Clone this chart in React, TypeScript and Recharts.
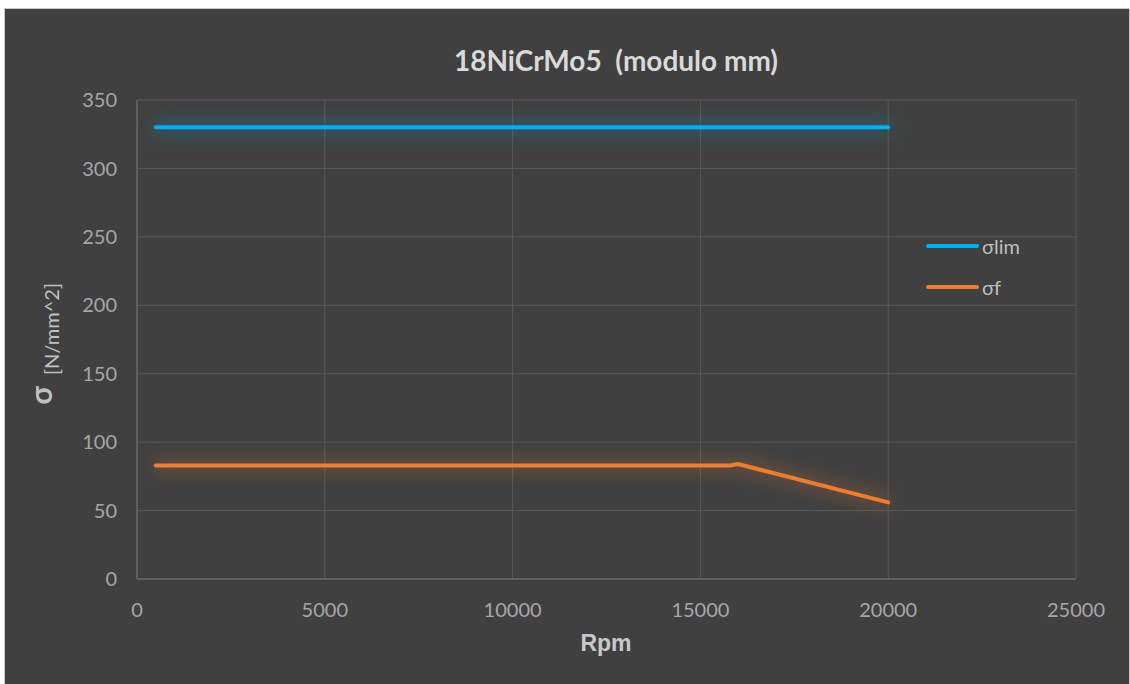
import React from "react";
import { LineChart, Line, XAxis, YAxis, CartesianGrid, Label } from "recharts";

// rpm sample points and the two stress curves
const rpm = [500, 5000, 10000, 15000, 15800, 16000, 20000];
const sigmaLim = [330, 330, 330, 330, 330, 330, 330];
const sigmaF = [83, 83, 83, 83, 83, 84, 56];

const xTicks = [0, 5000, 10000, 15000, 20000, 25000];
const yTicks = [0, 50, 100, 150, 200, 250, 300, 350];

const seriesNames = ["σlim", "σf"];
const seriesColors = ["#00b0f0", "#ed7d31"];

const data = rpm.map((r, i) => ({ rpm: r, lim: sigmaLim[i], f: sigmaF[i] }));

const FONT = "Lato, 'Open Sans', sans-serif";
const GRID = "#595959";
const AXIS = "#737373";
const W = 1124;
const H = 674;

function YTitle(props: any) {
  const { viewBox } = props;
  const cx = viewBox.x + 54;
  const cy = viewBox.y + viewBox.height / 2 + 65;
  return (
    <text
      x={cx}
      y={cy}
      transform={`rotate(-90 ${cx} ${cy})`}
      textAnchor="start"
      fill="#bfbfbf"
      fontFamily={FONT}
    >
      <tspan fontSize={30} fontWeight={700} dy={-7}>σ</tspan>
      <tspan fontSize={20} dx={11} dy={7}>[N/mm^2]</tspan>
    </text>
  );
}

function XTitle(props: any) {
  const { viewBox } = props;
  const cx = 601;
  const cy = viewBox.y + 64;
  return (
    <text
      x={cx}
      y={cy}
      textAnchor="middle"
      dominantBaseline="central"
      fill="#c8c8c8"
      fontFamily="'Liberation Sans', Arial, sans-serif"
      fontWeight={700}
      fontSize={23}
    >
      Rpm
    </text>
  );
}

export default function App() {
  return (
    <div
      style={{
        position: "fixed",
        left: 0,
        top: 0,
        width: 1130,
        height: 684,
        background: "#ffffff",
        overflow: "hidden",
      }}
    >
      <div
        style={{
          position: "absolute",
          left: 4,
          top: 8,
          width: W,
          height: H + 10,
          background: "#404040",
          border: "1px solid #c8c8c8",
        }}
      >
        <div
          style={{
            position: "absolute",
            left: 611,
            top: 51,
            transform: "translate(-50%, -50%)",
            whiteSpace: "pre",
            fontFamily: FONT,
            fontWeight: 700,
            fontSize: 28,
            color: "#d9d9d9",
          }}
        >
          {"18NiCrMo5  (modulo mm)"}
        </div>

        <LineChart
          width={W}
          height={H}
          data={data}
          margin={{ top: 91, right: 53, bottom: 0, left: 0 }}
        >
          <defs>
            <filter
              id="glow"
              filterUnits="userSpaceOnUse"
              x="0"
              y="0"
              width={W}
              height={H}
            >
              <feGaussianBlur in="SourceGraphic" stdDeviation="9" result="b" />
              <feComponentTransfer in="b" result="soft">
                <feFuncA type="linear" slope="0.85" />
              </feComponentTransfer>
              <feMerge>
                <feMergeNode in="soft" />
                <feMergeNode in="SourceGraphic" />
              </feMerge>
            </filter>
          </defs>
          <CartesianGrid stroke={GRID} strokeWidth={1} />
          <XAxis
            dataKey="rpm"
            type="number"
            domain={[0, 25000]}
            ticks={xTicks}
            height={104}
            stroke={AXIS}
            tickLine={false}
            tickSize={0}
            tickMargin={24}
            tick={{ fill: "#a6a6a6", fontSize: 20, fontFamily: FONT }}
          >
            <Label content={<XTitle />} />
          </XAxis>
          <YAxis
            type="number"
            domain={[0, 350]}
            ticks={yTicks}
            width={132}
            stroke={AXIS}
            tickLine={false}
            tickSize={0}
            tickMargin={20}
            tick={{ fill: "#a6a6a6", fontSize: 20, fontFamily: FONT }}
          >
            <Label content={<YTitle />} />
          </YAxis>
          <Line
            dataKey="lim"
            name={seriesNames[0]}
            stroke={seriesColors[0]}
            strokeWidth={4}
            strokeLinecap="round"
            dot={false}
            filter="url(#glow)"
            isAnimationActive={false}
          />
          <Line
            dataKey="f"
            name={seriesNames[1]}
            stroke={seriesColors[1]}
            strokeWidth={4}
            strokeLinecap="round"
            strokeLinejoin="round"
            dot={false}
            filter="url(#glow)"
            isAnimationActive={false}
          />
        </LineChart>

        {/* legend, right side of the plot */}
        <div
          style={{
            position: "absolute",
            left: 921,
            top: 216,
            fontFamily: FONT,
            fontSize: 20,
            color: "#bfbfbf",
          }}
        >
          {seriesNames.map((name, i) => (
            <div
              key={name}
              style={{ display: "flex", alignItems: "center", height: 41 }}
            >
              <span
                style={{
                  display: "inline-block",
                  width: 53,
                  height: 4,
                  borderRadius: 2,
                  background: seriesColors[i],
                  marginRight: 3,
                }}
              />
              <span>{name}</span>
            </div>
          ))}
        </div>
      </div>
    </div>
  );
}
